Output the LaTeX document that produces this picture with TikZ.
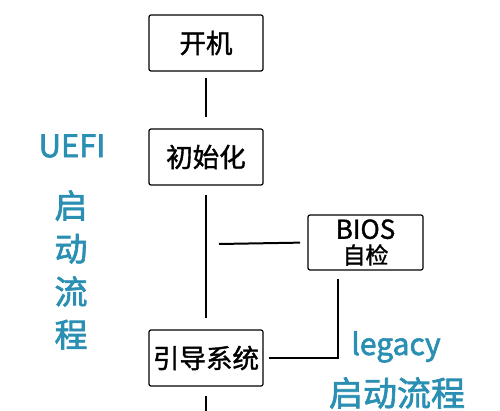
\documentclass[tikz,border=0pt]{standalone}
\usepackage{fontspec}
\setmainfont{Noto Sans CJK SC}
\newfontfamily\boxfont{Noto Sans CJK SC}[FakeBold=1.4]
\newfontfamily\bluefont{Noto Sans CJK SC}[FakeBold=2]
\usetikzlibrary{calc}
\definecolor{flowblue}{RGB}{42,143,178}
\tikzset{
every picture/.style={line width=2pt},
%%%%%%%%%%  Node styles
block/.style={rectangle, rounded corners=2pt, draw=black, line width=1.2pt,
              minimum width=114pt, minimum height=56pt, inner sep=0pt,
              outer sep=0pt, align=center, font=\boxfont\fontsize{26.5}{28}\selectfont},
small_block/.style={block, minimum width=115pt, minimum height=55pt,
              font=\boxfont\fontsize{23}{25}\selectfont},
blue_text/.style={text=flowblue, inner sep=0pt, outer sep=0pt},
}

\begin{document}
\begin{tikzpicture}[x=1pt,y=-1pt]
\useasboundingbox (0,0) rectangle (500,411);
%% main column
\node[block] (kaiji) at (206,43) {开机};
\node[block] (init) at (206,157) {初始化};
\node[block] (boot) at (206,358) {引导系统};
\node[small_block] (bios) at (365.5,242.5)
     {{\fontsize{26}{25}\selectfont BIOS}\\自检};
\coordinate (tap) at (219,244);
\coordinate (drop) at (338,270);
\coordinate (tail) at (206,411);
\draw[shorten <=7pt, shorten >=12pt] (kaiji) -- (init);
\draw[shorten <=10pt, shorten >=12pt] (init) -- (boot);
\draw[shorten >=8pt] (tap) -- (bios.west);
\draw[shorten <=9pt, shorten >=6pt] (drop) |- (boot.east);
\draw[shorten <=10pt] (boot) -- (tail);
%% labels
\node[blue_text, font=\bluefont\fontsize{31}{31}\selectfont] (uefi) at (72,146) {UEFI};
\node[blue_text, font=\bluefont\fontsize{33}{43}\selectfont, align=center] (uefiflow)
     at (71,270) {启\\动\\流\\程};
\node[blue_text, font=\bluefont\fontsize{30}{30}\selectfont, anchor=base] (legacy)
     at (396,355) {legacy};
\node[blue_text, font=\bluefont\fontsize{34}{34}\selectfont] (legacyflow)
     at (397,393) {启动流程};
\end{tikzpicture}
\end{document}
